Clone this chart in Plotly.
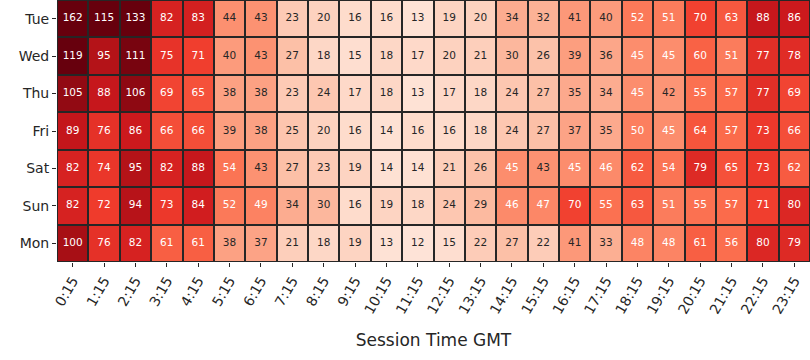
import plotly.graph_objects as go

days = ["Tue", "Wed", "Thu", "Fri", "Sat", "Sun", "Mon"]
times = [f"{h}:15" for h in range(24)]

tue = [162, 115, 133, 82, 83, 44, 43, 23, 20, 16, 16, 13, 19, 20, 34, 32, 41, 40, 52, 51, 70, 63, 88, 86]
wed = [119, 95, 111, 75, 71, 40, 43, 27, 18, 15, 18, 17, 20, 21, 30, 26, 39, 36, 45, 45, 60, 51, 77, 78]
thu = [105, 88, 106, 69, 65, 38, 38, 23, 24, 17, 18, 13, 17, 18, 24, 27, 35, 34, 45, 42, 55, 57, 77, 69]
fri = [89, 76, 86, 66, 66, 39, 38, 25, 20, 16, 14, 16, 16, 18, 24, 27, 37, 35, 50, 45, 64, 57, 73, 66]
sat = [82, 74, 95, 82, 88, 54, 43, 27, 23, 19, 14, 14, 21, 26, 45, 43, 45, 46, 62, 54, 79, 65, 73, 62]
sun = [82, 72, 94, 73, 84, 52, 49, 34, 30, 16, 19, 18, 24, 29, 46, 47, 70, 55, 63, 51, 55, 57, 71, 80]
mon = [100, 76, 82, 61, 61, 38, 37, 21, 18, 19, 13, 12, 15, 22, 27, 22, 41, 33, 48, 48, 61, 56, 80, 79]

z = [tue, wed, thu, fri, sat, sun, mon]

z_min, z_max = 0, 115

reds = ['#fff5f0', '#fee0d2', '#fcbba1', '#fc9272', '#fb6a4a',
        '#ef3b2c', '#cb181d', '#a50f15', '#67000d']
colorscale = [[i / (len(reds) - 1), c] for i, c in enumerate(reds)]

fig = go.Figure()
fig.add_trace(go.Heatmap(
    z=z, x=times, y=days, colorscale=colorscale, showscale=False,
    zmin=z_min, zmax=z_max, xgap=2, ygap=2, hoverinfo="skip",
))

dx, dy, dt = [], [], []
wx, wy, wt = [], [], []
for d, row in zip(days, z):
    for t, v in zip(times, row):
        if v >= 45:
            wx.append(t); wy.append(d); wt.append(str(v))
        else:
            dx.append(t); dy.append(d); dt.append(str(v))

fig.add_trace(go.Scatter(x=dx, y=dy, text=dt, mode="text",
                         textfont=dict(color="#262626", size=10.5, family="DejaVu Sans"),
                         hoverinfo="skip", showlegend=False))
fig.add_trace(go.Scatter(x=wx, y=wy, text=wt, mode="text",
                         textfont=dict(color="#ffffff", size=10.5, family="DejaVu Sans"),
                         hoverinfo="skip", showlegend=False))

fig.update_layout(
    width=810, height=360,
    margin=dict(l=57, r=0, t=0, b=98),
    paper_bgcolor="white",
    plot_bgcolor="#262626",
    font=dict(family="DejaVu Sans", color="#262626", size=14),
    showlegend=False,
)
fig.update_xaxes(
    range=[-0.5, 23.5],
    tickangle=-60, ticks="outside", ticklen=4, tickcolor="#262626",
    tickfont=dict(size=14), showgrid=False, zeroline=False,
    title=dict(text="Session Time GMT", font=dict(size=17), standoff=18),
    categoryorder="array", categoryarray=times,
)
fig.update_yaxes(
    range=[6.5, -0.5], ticks="outside", ticklen=4, tickcolor="#262626",
    tickfont=dict(size=14), showgrid=False, zeroline=False,
    categoryorder="array", categoryarray=days,
)

fig.write_html("out.html", config={"displayModeBar": False},
               post_script="document.body.style.margin='0';")
